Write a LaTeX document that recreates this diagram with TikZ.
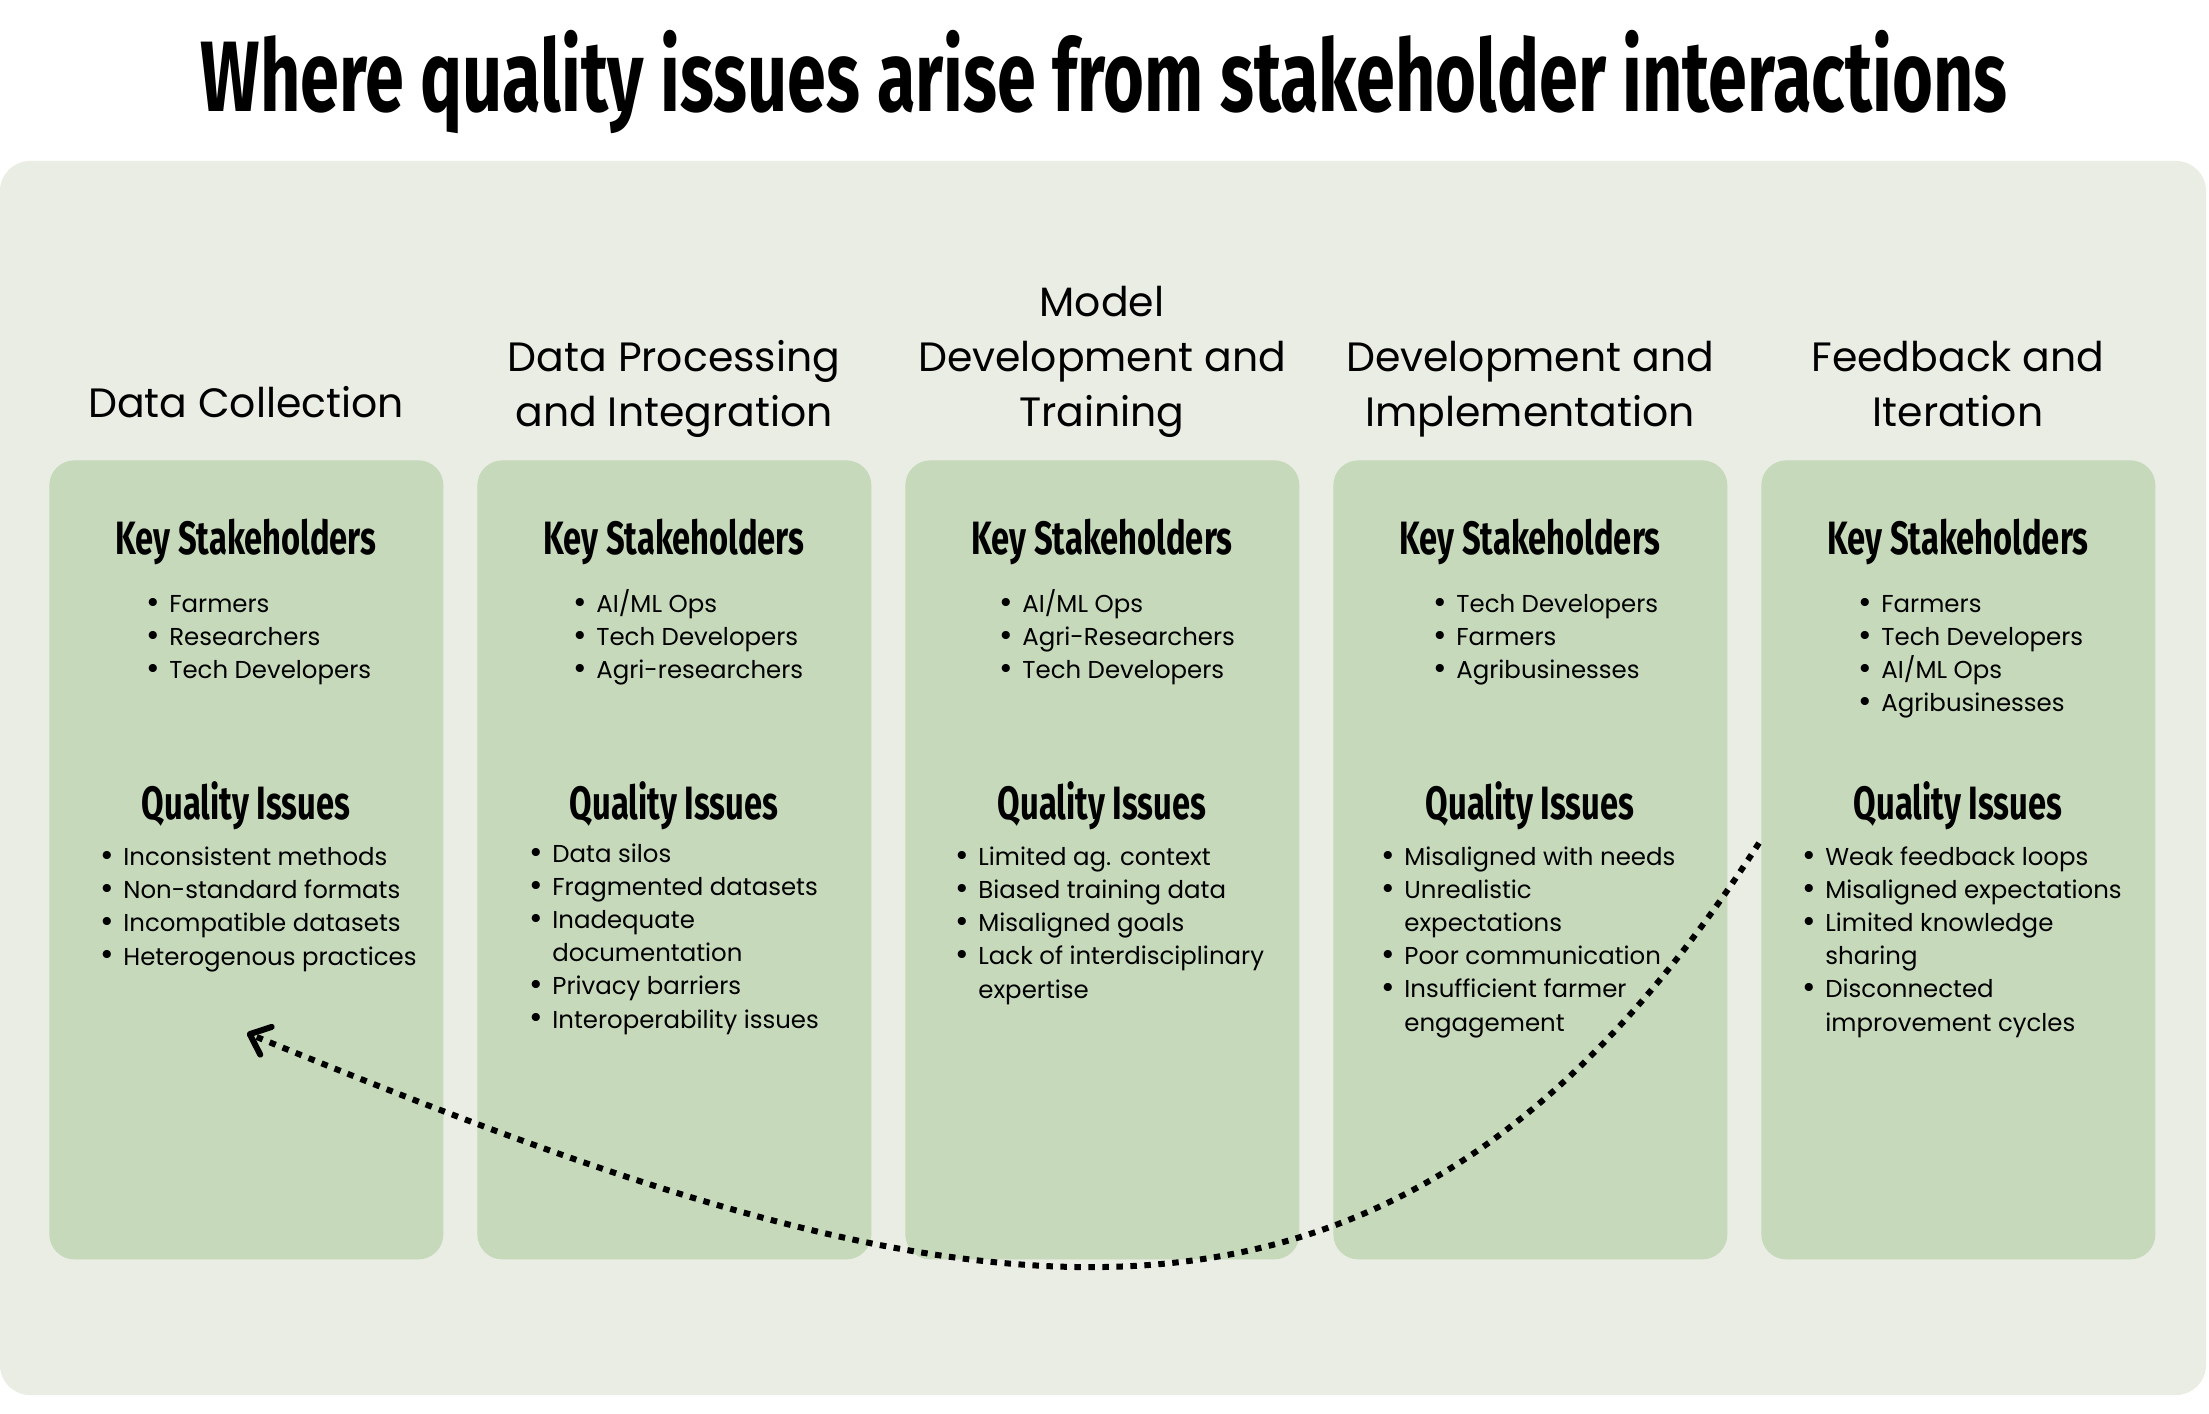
\documentclass[tikz,border=0pt]{standalone}
\usepackage{graphicx}
\usepackage{fontspec}
\setmainfont{Poppins}
\newfontfamily\condfont[FakeStretch=0.7]{Fira Sans}
\usetikzlibrary{arrows.meta, positioning}

\definecolor{panelbg}{RGB}{233,237,227}
\definecolor{stagegreen}{RGB}{198,217,186}

\newcommand{\bul}{\makebox[11.4pt][l]{\makebox[4pt][c]{\raisebox{-0.04em}{\scalebox{1.35}{\textbullet}}}}}
\newcommand{\cont}{\hspace*{11.4pt}}

\begin{document}
\begin{tikzpicture}[
  x=0.2mm, y=-0.2mm,
  stagebox/.style={fill=stagegreen, rounded corners=5mm, minimum width=78.8mm, minimum height=159.8mm, anchor=north west, inner sep=0pt},
  stagetitle/.style={align=center, anchor=base, inner sep=0pt, font=\fontsize{23.3}{31.3}\selectfont},
  keyhead/.style={anchor=base, inner sep=0pt, font=\condfont\bfseries\fontsize{26.6}{30}\selectfont},
  itemlist/.style={align=left, anchor=base west, inner sep=0pt, font=\fontsize{13.9}{18.78}\selectfont},
  feedbackarrow/.style={line width=1.2mm, dash pattern=on 1.3mm off 1.5mm, -{Straight Barb[length=3.5mm, width=6mm, round]}}
]
\fill[white] (0,0) rectangle (2209,1414);
\useasboundingbox (0,0) rectangle (2209,1414);
\fill[panelbg, rounded corners=6mm] (0,161) rectangle (2206,1395);

\node[anchor=base, inner sep=0pt, font=\condfont\bfseries\fontsize{57}{60}\selectfont] (title) at (1104,112) {Where quality issues arise from stakeholder interactions};

% stages
\node[stagebox] (collection) at (49,460) {};
\node[stagebox] (processing) at (477,460) {};
\node[stagebox] (modeling) at (905,460) {};
\node[stagebox] (implementation) at (1333,460) {};
\node[stagebox] (iteration) at (1761,460) {};

% base of a multi-line node = its last line
\node[stagetitle] (collectiontitle) at (246,418) {Data Collection};
\node[stagetitle] (processingtitle) at (674,427) {Data Processing\\and Integration};
\node[stagetitle] (modelingtitle) at (1102,427) {Model\\Development and\\Training};
\node[stagetitle] (implementationtitle) at (1530,427) {Development and\\Implementation};
\node[stagetitle] (iterationtitle) at (1958,427) {Feedback and\\Iteration};

% key stakeholders
\node[keyhead] (collectionkey) at (246,555) {Key Stakeholders};
\node[keyhead] (processingkey) at (674,555) {Key Stakeholders};
\node[keyhead] (modelingkey) at (1102,555) {Key Stakeholders};
\node[keyhead] (implementationkey) at (1530,555) {Key Stakeholders};
\node[keyhead] (iterationkey) at (1958,555) {Key Stakeholders};

\node[itemlist] (collectionwho) at (149,679) {\bul Farmers\\\bul Researchers\\\bul Tech Developers};
\node[itemlist] (processingwho) at (576,679) {\bul AI/ML Ops\\\bul Tech Developers\\\bul Agri-researchers};
\node[itemlist] (modelingwho) at (1002,679) {\bul AI/ML Ops\\\bul Agri-Researchers\\\bul Tech Developers};
\node[itemlist] (implementationwho) at (1436,679) {\bul Tech Developers\\\bul Farmers\\\bul Agribusinesses};
\node[itemlist] (iterationwho) at (1861,712) {\bul Farmers\\\bul Tech Developers\\\bul AI/ML Ops\\\bul Agribusinesses};

% quality issues
\node[keyhead] (collectionissue) at (246,820) {Quality Issues};
\node[keyhead] (processingissue) at (674,820) {Quality Issues};
\node[keyhead] (modelingissue) at (1102,820) {Quality Issues};
\node[keyhead] (implementationissue) at (1530,820) {Quality Issues};
\node[keyhead] (iterationissue) at (1958,820) {Quality Issues};

\node[itemlist] (collectionwhat) at (103,965) {\bul Inconsistent methods\\\bul Non-standard formats\\\bul Incompatible datasets\\\bul Heterogenous practices};
\node[itemlist] (processingwhat) at (532,1028) {\bul Data silos\\\bul Fragmented datasets\\\bul Inadequate\\\cont documentation\\\bul Privacy barriers\\\bul Interoperability issues};
\node[itemlist] (modelingwhat) at (958,998) {\bul Limited ag. context\\\bul Biased training data\\\bul Misaligned goals\\\bul Lack of interdisciplinary\\\cont expertise};
\node[itemlist] (implementationwhat) at (1384,1031) {\bul Misaligned with needs\\\bul Unrealistic\\\cont expectations\\\bul Poor communication\\\bul Insufficient farmer\\\cont engagement};
\node[itemlist] (iterationwhat) at (1805,1031) {\bul Weak feedback loops\\\bul Misaligned expectations\\\bul Limited knowledge\\\cont sharing\\\bul Disconnected\\\cont improvement cycles};

% feedback loop back to collection
\coordinate (loopstart) at (1759,843);
\coordinate (loopend) at (247,1033);
\draw[feedbackarrow] (loopstart) .. controls (1381,1431) and (947,1320) .. (loopend);

\end{tikzpicture}
\end{document}
